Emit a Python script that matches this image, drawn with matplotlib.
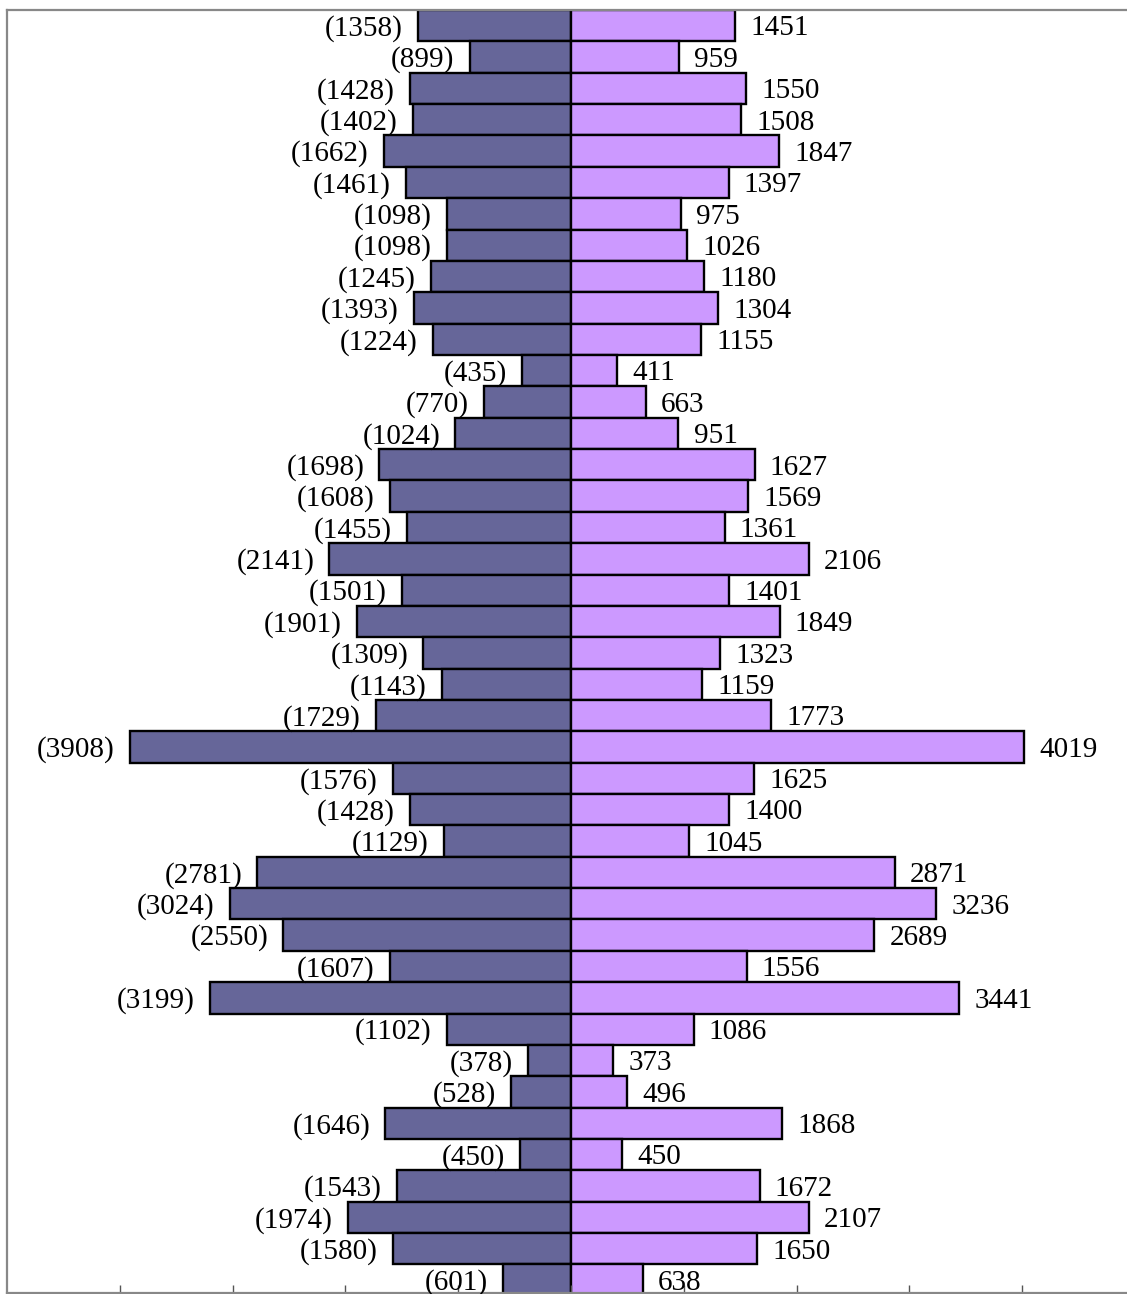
import matplotlib.pyplot as plt
import numpy as np

# values, top row first
left_vals = [1358, 899, 1428, 1402, 1662, 1461, 1098, 1098, 1245, 1393, 1224, 435, 770, 1024,
             1698, 1608, 1455, 2141, 1501, 1901, 1309, 1143, 1729, 3908, 1576, 1428, 1129,
             2781, 3024, 2550, 1607, 3199, 1102, 378, 528, 1646, 450, 1543, 1974, 1580, 601]
right_vals = [1451, 959, 1550, 1508, 1847, 1397, 975, 1026, 1180, 1304, 1155, 411, 663, 951,
              1627, 1569, 1361, 2106, 1401, 1849, 1323, 1159, 1773, 4019, 1625, 1400, 1045,
              2871, 3236, 2689, 1556, 3441, 1086, 373, 496, 1868, 450, 1672, 2107, 1650, 638]
xticks = [-4000, -3000, -2000, -1000, 0, 1000, 2000, 3000, 4000]

W, H = 1127, 1294
fig = plt.figure(figsize=(W/100, H/100), dpi=100)
# axes runs a little past the right and bottom edge, as in the cropped original
ax = fig.add_axes([7/W, 1/H, (1135-7)/W, (1293-10)/H])

y = np.arange(len(left_vals))
ax.barh(y, [-v for v in left_vals], height=1.0, color="#666699", edgecolor="black", linewidth=1.7)
ax.barh(y, right_vals, height=1.0, color="#CC99FF", edgecolor="black", linewidth=1.7)

font = dict(family=["Liberation Serif", "DejaVu Serif"], fontsize=21)
for i, (l, r) in enumerate(zip(left_vals, right_vals)):
    ax.annotate(f"({l})", (-l, i), xytext=(-11, -2), textcoords="offset points",
                ha="right", va="center", **font)
    ax.annotate(f"{r}", (r, i), xytext=(11, -2), textcoords="offset points",
                ha="left", va="center", **font)

ax.set_xlim(-5000, 5000)
ax.set_ylim(len(left_vals) - 1 + 0.41, -0.5)
ax.set_xticks(xticks)
ax.set_xticklabels([])
ax.set_yticks([])
ax.tick_params(axis="x", direction="in", length=6, width=1, color="#555555")
for s in ax.spines.values():
    s.set_color("#888888")
    s.set_linewidth(1.6)

fig.savefig("out.png", dpi=100)
